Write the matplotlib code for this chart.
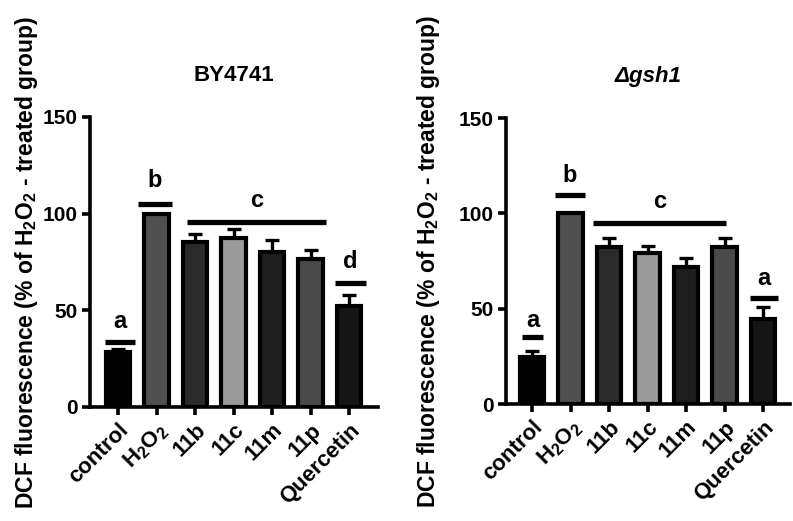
import matplotlib
matplotlib.use("Agg")
import matplotlib.pyplot as plt
import numpy as np

plt.rcParams['font.family'] = ['Liberation Sans', 'DejaVu Sans']
plt.rcParams['mathtext.fontset'] = 'custom'
plt.rcParams['mathtext.rm'] = 'Liberation Sans'
plt.rcParams['mathtext.bf'] = 'Liberation Sans:bold'
plt.rcParams['mathtext.it'] = 'Liberation Sans:italic'

categories = ['control', r'H$\mathbf{_2}$O$\mathbf{_2}$', '11b', '11c', '11m', '11p', 'Quercetin']
bar_colors = ['#000000', '#505050', '#2b2b2b', '#9a9a9a', '#1e1e1e', '#4a4a4a', '#151515']

# BY4741
by_means = [28.5, 100, 85.5, 87.6, 80.3, 76.4, 52.2]
by_err = [1.5, 0, 3.8, 4.3, 6.3, 4.8, 5.9]
by_letters = ['a', 'b', 'c', 'd']
by_line_y = [33.6, 105, 95.7, 64.1]
by_letter_y = [44, 117, 107, 75]

# gsh1
gsh_means = [24.5, 100, 82.2, 79.4, 72.0, 82.2, 44.6]
gsh_err = [3.1, 0, 4.8, 3.6, 4.6, 4.8, 6.4]
gsh_letters = ['a', 'b', 'c', 'a']
gsh_line_y = [35, 109.4, 94.9, 55.6]
gsh_letter_y = [44, 120, 106, 66]

W, H = 793, 521
fig = plt.figure(figsize=(W / 100, H / 100), dpi=100)

panels = [
    dict(rect=[90 / W, (H - 407) / H, 288 / W, 290 / H], xlim=(-0.727, 6.75),
         means=by_means, err=by_err, letters=by_letters, line_y=by_line_y, letter_y=by_letter_y,
         spans=[(-0.35, 0.45), (0.52, 1.40), (1.79, 5.40), (5.64, 6.44)],
         title='BY4741', title_style='normal', label_x=-0.174),
    dict(rect=[506 / W, (H - 404) / H, 284 / W, 286 / H], xlim=(-0.675, 6.70),
         means=gsh_means, err=gsh_err, letters=gsh_letters, line_y=gsh_line_y, letter_y=gsh_letter_y,
         spans=[(-0.26, 0.29), (0.60, 1.38), (1.58, 5.04), (5.66, 6.39)],
         title='Δgsh1', title_style='italic', label_x=-0.225),
]

for p in panels:
    ax = fig.add_axes(p['rect'])
    x = np.arange(len(categories))
    ax.bar(x, p['means'], width=0.64, color=bar_colors, edgecolor='black', linewidth=3.0, zorder=2)
    errs = np.array(p['err'])
    ax.errorbar(x, p['means'], yerr=[np.zeros_like(errs), errs], fmt='none', ecolor='black',
                elinewidth=2.4, capsize=5, capthick=2.4, zorder=1)
    for (x0, x1), ly, lt, ty in zip(p['spans'], p['line_y'], p['letters'], p['letter_y']):
        ax.plot([x0, x1], [ly, ly], color='black', lw=3.8, solid_capstyle='butt', clip_on=False)
        ax.text((x0 + x1) / 2, ty, lt, ha='center', va='center', fontsize=17, fontweight='bold')
    ax.set_xlim(*p['xlim'])
    ax.set_ylim(0, 150)
    ax.set_yticks([0, 50, 100, 150])
    ax.set_xticks(x)
    ax.set_xticklabels(categories, rotation=45, ha='right', rotation_mode='anchor')
    ax.tick_params(axis='x', labelsize=16)
    ax.tick_params(axis='y', labelsize=15)
    ax.spines['top'].set_visible(False)
    ax.spines['right'].set_visible(False)
    ax.spines['left'].set_linewidth(2.6)
    ax.spines['bottom'].set_linewidth(2.6)
    ax.tick_params(axis='both', width=2.6, length=6, pad=3)
    plt.setp(ax.get_xticklabels() + ax.get_yticklabels(), fontweight='bold')
    ax.set_ylabel(r'DCF fluorescence (% of H$\mathbf{_2}$O$\mathbf{_2}$ - treated group)',
                  fontsize=16.5, fontweight='bold')
    ax.yaxis.set_label_coords(p['label_x'], 0.5)
    ax.set_title(p['title'], fontsize=16, fontweight='bold', style=p['title_style'], pad=26)

fig.savefig('out.png', dpi=100)
